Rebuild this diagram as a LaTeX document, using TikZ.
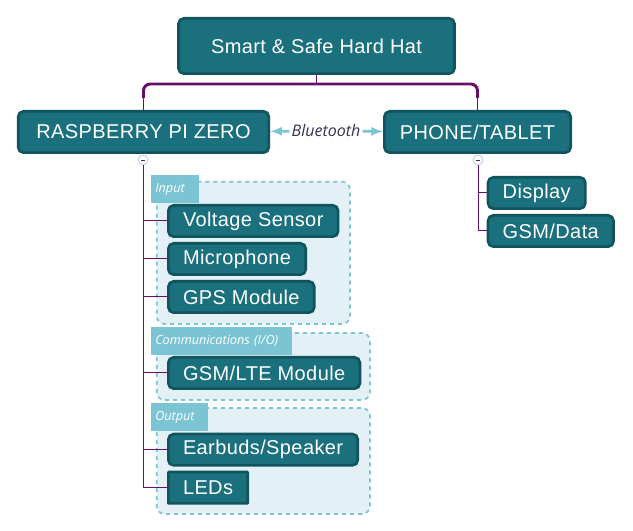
\documentclass[tikz,border=0pt]{standalone}
\usepackage{fontspec}
\setmainfont[LetterSpace=2.0]{Liberation Sans}
\newfontfamily\notefont{Open Sans}
\usetikzlibrary{positioning}
\definecolor{hatteal}{RGB}{26,112,125}
\definecolor{hatedge}{RGB}{18,84,94}
\definecolor{hatpurple}{RGB}{104,16,104}
\definecolor{hatblue}{RGB}{122,196,212}
\definecolor{hatpale}{RGB}{227,241,246}
\definecolor{hatnote}{RGB}{50,50,80}
\tikzstyle{topic} = [rectangle, draw=hatedge, fill=hatteal, line width=2pt, rounded corners=4pt, text=white, font=\fontsize{15}{18}\selectfont, inner xsep=11pt, minimum height=31pt]
\tikzstyle{item} = [topic, minimum height=23.5pt, anchor=west]
\tikzstyle{group} = [draw=hatblue, fill=hatpale, dashed, line width=1.3pt, rounded corners=6pt]
\tikzstyle{tab} = [rectangle, fill=hatblue, text=white, font=\notefont\itshape\fontsize{9.5}{11}\selectfont, anchor=north west, inner xsep=3pt, minimum height=21pt, align=left]
\tikzstyle{trunk} = [draw=hatpurple, line width=0.75pt]
\tikzstyle{link} = [draw=hatblue, line width=2pt, -latex]
\tikzstyle{toggle} = [circle, draw=hatblue!60!blue!40, fill=white, line width=0.6pt, minimum size=7.5pt, inner sep=0pt]

\begin{document}
\begin{tikzpicture}[x=0.75pt, y=-0.75pt]
    \useasboundingbox (0,0) rectangle (633,531);

    % group frames
    \draw [group] (156.7,181.7) rectangle (350,324);
    \draw [group] (156.7,333) rectangle (370,400);
    \draw [group] (156.7,408) rectangle (370,514);
    \node [tab, text width=30pt] (intab) at (151,175) {Input};
    \node [tab, text width=99.5pt] (comtab) at (151,327) {Communications (I/O)};
    \node [tab, text width=36.5pt] (outtab) at (151,403) {Output};

    \node [topic, minimum width=207pt, minimum height=41.5pt] (hat) at (316.5,46) {Smart \& Safe Hard Hat};
    \node [topic, minimum width=188pt] (rpi) at (143.5,132) {RASPBERRY PI ZERO};
    \node [topic, minimum width=139.75pt] (phone) at (477.5,132) {PHONE/TABLET};
    \node [font=\notefont\itshape\fontsize{12}{14}\selectfont, text=hatnote, inner sep=1.5pt] (bt) at (326,131) {Bluetooth};

    \node [item] (volt) at (167,221) {Voltage Sensor};
    \node [item, below right=3pt and 0pt of volt.south west] (mic) {Microphone};
    \node [item, below right=3pt and 0pt of mic.south west] (gps) {GPS Module};
    \node [item] (lte) at (167,373) {GSM/LTE Module};
    \node [item] (ear) at (167,449.7) {Earbuds/Speaker};
    \node [item, rounded corners=0.5pt, below right=3pt and 0pt of ear.south west] (leds) {LEDs};
    \node [item] (disp) at (486.7,193) {Display};
    \node [item, below right=3pt and 0pt of disp.south west] (gsm) {GSM/Data};

    \node [toggle] (rpitog) at (143,160) {};
    \node [toggle] (phonetog) at (478,160) {};
    \draw [hatnote, line width=0.5pt] ([xshift=-1.8pt]rpitog.center) -- ([xshift=1.8pt]rpitog.center);
    \draw [hatnote, line width=0.5pt] ([xshift=-1.8pt]phonetog.center) -- ([xshift=1.8pt]phonetog.center);

    \coordinate (hub) at (316.5,84);
    \path [trunk] (hat.south) -- (hub);
    \path [trunk, line width=2.2pt, rounded corners=5pt] (rpi.north |- 0,98) |- (hub) -| (phone.north |- 0,98);
    \path [trunk] (rpi.north |- 0,97) -- (rpi.north);
    \path [trunk] (phone.north |- 0,97) -- (phone.north);

    \path [link] (bt) -- (rpi);
    \path [link] (bt) -- (phone);

    \path [trunk] (rpitog.south) |- (leds.west);
    \path [trunk] (rpitog.south |- volt) -- (volt.west);
    \path [trunk] (rpitog.south |- mic) -- (mic.west);
    \path [trunk] (rpitog.south |- gps) -- (gps.west);
    \path [trunk] (rpitog.south |- lte) -- (lte.west);
    \path [trunk] (rpitog.south |- ear) -- (ear.west);
    \path [trunk] (phonetog.south) |- (gsm.west);
    \path [trunk] (phonetog.south |- disp) -- (disp.west);

\end{tikzpicture}
\end{document}
